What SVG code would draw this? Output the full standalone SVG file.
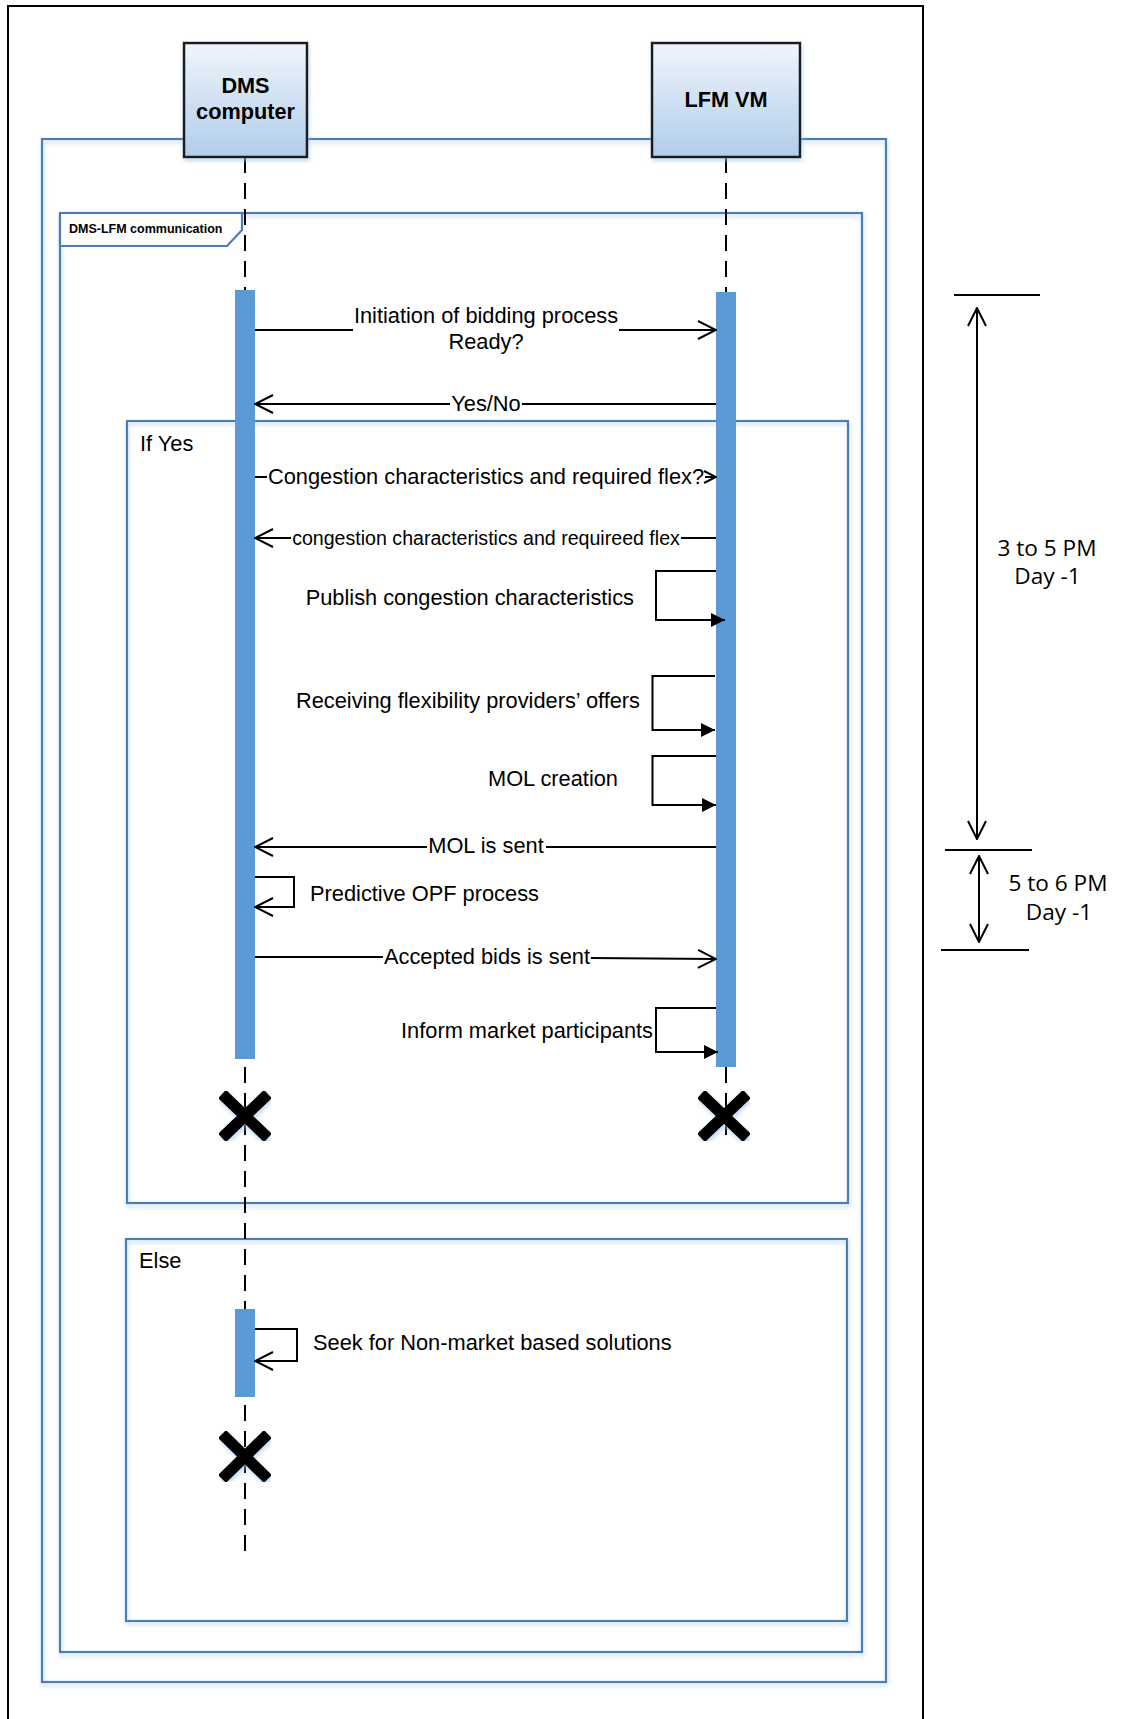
<svg xmlns="http://www.w3.org/2000/svg" width="1122" height="1719" viewBox="0 0 1122 1719">
<defs>
<style>
.lbl{font-family:"Liberation Sans",Arial,sans-serif;font-size:21.8px;fill:#000}
.sm{font-size:19.6px}
.hdr{font-family:"Liberation Sans",Arial,sans-serif;font-size:21.7px;font-weight:bold;fill:#000;text-anchor:middle}
.tab{font-family:"Liberation Sans",Arial,sans-serif;font-size:12.5px;font-weight:bold;fill:#000}
.time{font-family:"Open Sans","Noto Sans",sans-serif;font-size:22.6px;fill:#000;text-anchor:middle}
.frame{fill:none;stroke:#4A7EBB;stroke-width:2.2}
.bar{fill:#5B9BD5}
.life{fill:none;stroke:#000;stroke-width:2;stroke-dasharray:16 10}
.msg{fill:none;stroke:#000;stroke-width:2}
.xm{stroke:#000;stroke-width:11.5}
.mid{text-anchor:middle}
.end{text-anchor:end}
</style>
<linearGradient id="hg" x1="0" y1="0" x2="0" y2="1">
<stop offset="0" stop-color="#F0F5FB"/>
<stop offset="1" stop-color="#B0CDEA"/>
</linearGradient>
<filter id="sh" x="-5%" y="-5%" width="110%" height="110%">
<feDropShadow dx="1" dy="3" stdDeviation="2" flood-color="#9DC3E6" flood-opacity="0.6"/>
</filter>
<marker id="open" viewBox="0 0 20 20" refX="19" refY="10" markerWidth="20" markerHeight="20" orient="auto-start-reverse" markerUnits="userSpaceOnUse">
<path d="M1,1 L19,10 L1,19" fill="none" stroke="#000" stroke-width="2"/>
</marker>
<marker id="openS" viewBox="0 0 14 14" refX="13" refY="7" markerWidth="14" markerHeight="14" orient="auto" markerUnits="userSpaceOnUse">
<path d="M1,1 L13,7 L1,13" fill="none" stroke="#000" stroke-width="2"/>
</marker>
<marker id="fill" viewBox="0 0 14 14" refX="14" refY="7" markerWidth="14" markerHeight="14" orient="auto" markerUnits="userSpaceOnUse">
<path d="M0,0 L14,7 L0,14 Z" fill="#000"/>
</marker>
</defs>
<rect width="1122" height="1719" fill="#fff"/>

<g id="page-border">
<rect x="8" y="6" width="915" height="1740" fill="none" stroke="#000" stroke-width="2"/>
</g>

<g id="frames">
<rect id="frame-outer" class="frame" x="42" y="139" width="844" height="1543" filter="url(#sh)"/>
<rect id="frame-comm" class="frame" x="60" y="213" width="802" height="1439" filter="url(#sh)"/>
<g id="frame-comm-tab">
<path d="M60,213 H242 V230 L227,246 H60 Z" fill="#fff" stroke="#4A7EBB" stroke-width="2.2"/>
<text class="tab" x="69" y="233">DMS-LFM communication</text>
</g>
<g id="frame-ifyes">
<rect class="frame" x="127" y="421" width="721" height="782" filter="url(#sh)"/>
<text class="lbl" x="140" y="451">If Yes</text>
</g>
<g id="frame-else">
<rect class="frame" x="126" y="1239" width="721" height="382" filter="url(#sh)"/>
<text class="lbl" x="139" y="1268">Else</text>
</g>
</g>

<g id="lifelines">
<line class="life" x1="245" y1="157" x2="245" y2="1560"/>
<line class="life" x1="726" y1="157" x2="726" y2="1140"/>
</g>

<g id="dms-computer">
<rect x="184" y="43" width="123" height="114" fill="url(#hg)" stroke="#1a1a1a" stroke-width="2.5" filter="url(#sh)"/>
<text class="hdr" x="245.5" y="93">DMS</text>
<text class="hdr" x="245.5" y="119">computer</text>
</g>
<g id="lfm-vm">
<rect x="652" y="43" width="148" height="114" fill="url(#hg)" stroke="#1a1a1a" stroke-width="2.5" filter="url(#sh)"/>
<text class="hdr" x="726" y="107">LFM VM</text>
</g>

<g id="activations">
<rect id="act-dms" class="bar" x="235" y="290" width="20" height="769"/>
<rect id="act-lfm" class="bar" x="716" y="292" width="20" height="775"/>
<rect id="act-dms-else" class="bar" x="235" y="1309" width="20" height="88"/>
</g>

<g id="destroy">
<g id="x-dms" filter="url(#sh)"><path class="xm" d="M222,1094 L268,1138 M222,1138 L268,1094"/></g>
<g id="x-lfm" filter="url(#sh)"><path class="xm" d="M701,1094 L747,1138 M701,1138 L747,1094"/></g>
<g id="x-dms-else" filter="url(#sh)"><path class="xm" d="M222,1434 L268,1479 M222,1479 L268,1434"/></g>
</g>

<g id="connectors">
<path class="msg" d="M255,330 H353 M619,330 H716" marker-end="url(#open)"/>
<path class="msg" d="M716,404 H522 M450,404 H255" marker-end="url(#open)"/>
<path class="msg" d="M255,477 H267 M705,477 H716" marker-end="url(#openS)"/>
<path class="msg" d="M716,538 H681 M291,538 H255" marker-end="url(#open)"/>
<path class="msg" d="M716,571 H656 V620 H725" marker-end="url(#fill)"/>
<path class="msg" d="M715,676 H652.5 V730 H715" marker-end="url(#fill)"/>
<path class="msg" d="M716,756 H652.5 V805 H716" marker-end="url(#fill)"/>
<path class="msg" d="M716,847 H546 M427,847 H255" marker-end="url(#open)"/>
<path class="msg" d="M255,877 H294 V907 H255" marker-end="url(#open)"/>
<path class="msg" d="M255,957 H383 M591,958 L716,959" marker-end="url(#open)"/>
<path class="msg" d="M716,1008 H656 V1052 H718" marker-end="url(#fill)"/>
<path class="msg" d="M255,1329 H297 V1361 H255" marker-end="url(#open)"/>
</g>

<g id="labels">
<text class="lbl mid" x="486" y="323">Initiation of bidding process</text>
<text class="lbl mid" x="486" y="349">Ready?</text>
<text class="lbl mid" x="486" y="411">Yes/No</text>
<text class="lbl mid" x="486" y="484">Congestion characteristics and required flex?</text>
<text class="lbl sm mid" x="486" y="545">congestion characteristics and requireed flex</text>
<text class="lbl end" x="634" y="605">Publish congestion characteristics</text>
<text class="lbl end" x="640" y="708">Receiving flexibility providers’ offers</text>
<text class="lbl end" x="618" y="786">MOL creation</text>
<text class="lbl mid" x="486" y="853">MOL is sent</text>
<text class="lbl" x="310" y="901">Predictive OPF process</text>
<text class="lbl mid" x="487" y="964">Accepted bids is sent</text>
<text class="lbl end" x="653" y="1038">Inform market participants</text>
<text class="lbl" x="313" y="1350">Seek for Non-market based solutions</text>
</g>

<g id="timeline">
<line class="msg" x1="954" y1="295" x2="1040" y2="295"/>
<line class="msg" x1="945" y1="850" x2="1032" y2="850"/>
<line class="msg" x1="941" y1="950" x2="1029" y2="950"/>
<line class="msg" x1="977" y1="308" x2="977" y2="839" marker-start="url(#open)" marker-end="url(#open)"/>
<line class="msg" x1="979" y1="856" x2="979" y2="942" marker-start="url(#open)" marker-end="url(#open)"/>
<text class="time" x="1047" y="556">3 to 5 PM</text>
<text class="time" x="1047.5" y="584">Day -1</text>
<text class="time" x="1058" y="891">5 to 6 PM</text>
<text class="time" x="1059" y="920">Day -1</text>
</g>
</svg>
